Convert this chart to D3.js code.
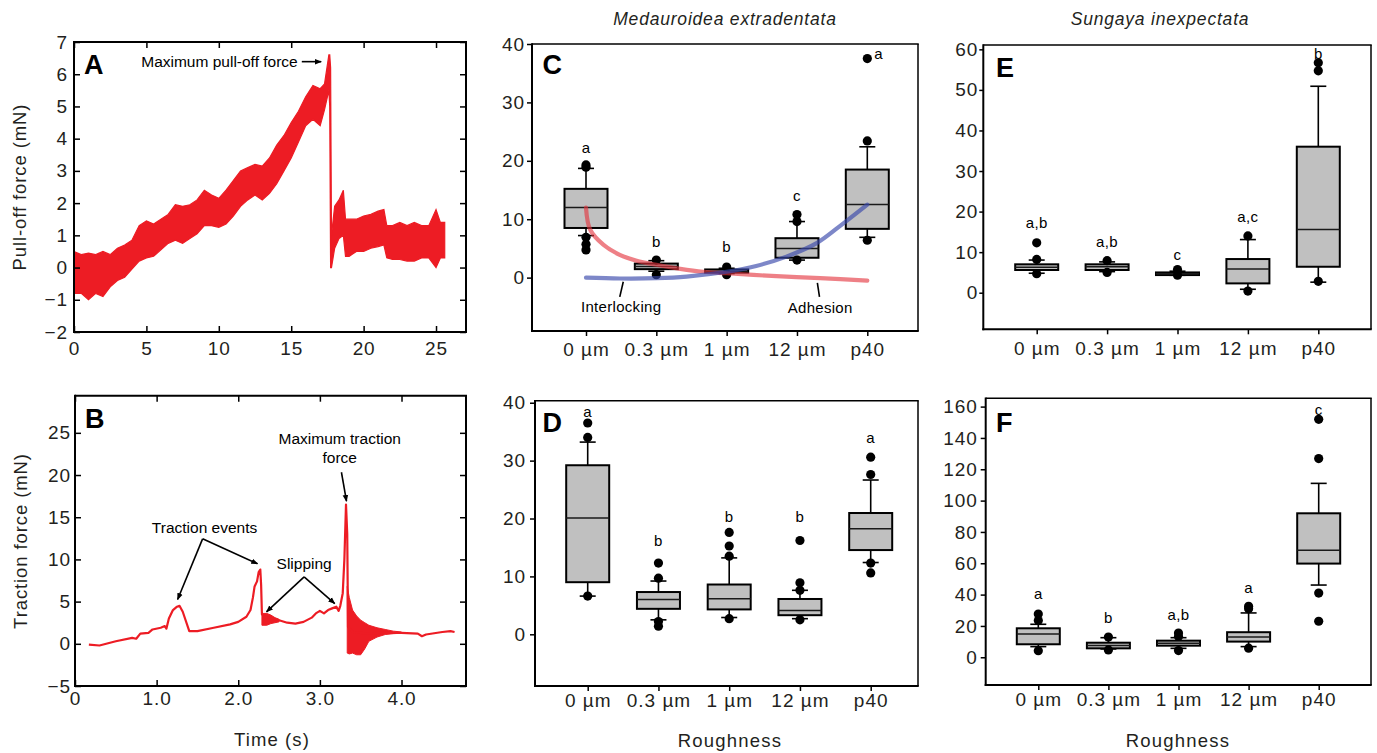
<!DOCTYPE html>
<html><head><meta charset="utf-8">
<script src="https://cdn.jsdelivr.net/npm/d3@7"></script>
<style>
body{margin:0;background:#fff;}
svg{display:block;font-family:"Liberation Sans",Arial,sans-serif;}
</style></head><body>
<svg id="chart" width="1377" height="753"></svg>
<script>
// ---------- Panel A : pull-off force trace (envelope of the noisy signal) ----------
const aTime = [0,0.5,1,1.5,2,2.5,3,3.5,4,4.5,5,5.5,6,6.5,7,7.5,8,8.5,9,9.5,10,10.5,11,11.5,12,12.5,13,13.5,14,14.5,15,15.5,16,16.5,17,17.3,17.6,17.66,17.72,17.78,18,18.3,18.6,18.75,19,19.5,20,20.5,21,21.4,21.6,22,22.5,23,23.5,24,24.5,25,25.3,25.6];
const aLow  = [-0.8,-0.8,-1.0,-0.8,-0.9,-0.6,-0.4,-0.3,-0.05,0.2,0.3,0.35,0.55,0.75,0.85,0.75,0.9,1.05,1.3,1.3,1.25,1.35,1.6,1.9,2.1,2.25,2.1,2.3,2.6,3.0,3.4,3.9,4.4,4.6,4.4,4.9,5.5,5.0,0.0,0.0,0.6,0.9,1.0,0.35,0.35,0.5,0.5,0.6,0.65,0.7,0.3,0.25,0.25,0.2,0.2,0.3,0.3,0.0,0.3,0.3];
const aHigh = [0.5,0.4,0.45,0.4,0.5,0.4,0.6,0.7,0.85,1.3,1.45,1.35,1.5,1.65,1.95,1.9,1.95,2.1,2.4,2.25,2.15,2.4,2.7,3.0,3.1,3.2,3.15,3.4,3.8,4.1,4.5,4.85,5.3,5.65,5.55,5.7,6.6,6.6,6.2,1.0,1.9,2.1,2.4,1.5,1.5,1.5,1.6,1.65,1.75,1.8,1.3,1.3,1.4,1.3,1.4,1.3,1.3,1.8,1.4,1.4];
const aXTicks = [0,5,10,15,20,25];
const aYTicks = [-2,-1,0,1,2,3,4,5,6,7];

// ---------- Panel B : traction force trace ----------
const bTime  = [0.17,0.3,0.5,0.7,0.75,0.8,0.9,0.95,1.05,1.1,1.12,1.15,1.2,1.25,1.28,1.32,1.4,1.5,1.7,1.9,2.0,2.1,2.15,2.18,2.2,2.23,2.25,2.27,2.28,2.29,2.32,2.4,2.5,2.6,2.7,2.8,2.9,2.95,3.0,3.05,3.1,3.15,3.2,3.23,3.25,3.28,3.3,3.32,3.335,3.345,3.4,3.5,3.6,3.7,3.8,3.9,4.0,4.2,4.25,4.3,4.5,4.6,4.65];
const bForce = [-0.1,-0.2,0.3,0.7,0.6,1.2,1.3,1.7,1.9,2.1,1.8,3.0,4.0,4.4,4.5,3.8,1.5,1.5,1.9,2.3,2.6,3.2,4.0,5.5,6.8,7.4,8.5,8.8,7.0,3.5,3.2,3.1,2.8,2.5,2.4,2.6,3.1,3.6,3.9,3.6,4.0,4.2,4.4,3.9,4.5,6.0,10.0,16.5,13.0,2.0,1.4,1.3,1.2,1.3,1.35,1.3,1.3,1.2,0.9,1.1,1.4,1.5,1.4];
const osc1Time = [2.29,2.35,2.4,2.45,2.5];
const osc1Lo   = [2.2,2.2,2.4,2.5,2.6];
const osc1Hi   = [3.6,3.6,3.4,3.1,2.9];
const osc2Time = [3.335,3.36,3.4,3.45,3.5,3.55,3.6,3.7,3.8,3.9,4.0];
const osc2Lo   = [-1.1,-1.2,-1.1,-1.3,-1.3,-0.6,0.3,0.8,1.1,1.2,1.25];
const osc2Hi   = [6.8,5.5,4.0,3.3,2.8,2.5,2.2,1.9,1.7,1.5,1.4];
const bXTicks = [0,1,2,3,4];
const bXTickLabels = ["0","1.0","2.0","3.0","4.0"];
const bYTicks = [-5,0,5,10,15,20,25];

// ---------- Box plots ----------
const cats = ["0 µm","0.3 µm","1 µm","12 µm","p40"];

// C: Medauroidea extradentata, pull-off
const cQ1  = [8.5,1.45,0.85,3.4,8.35];
const cMed = [12.0,1.9,1.1,5.0,12.5];
const cQ3  = [15.2,2.4,1.4,6.75,18.5];
const cLo  = [7.2,1.1,0.7,3.0,6.9];
const cHi  = [18.7,2.9,1.6,9.6,22.4];
const cOut = [[19.3,18.9,6.9,5.7,4.75],[3.0,0.5],[1.8,0.5],[10.8,9.6,3.0],[37.5,23.4,6.4]];
const cLetters = ["a","b","b","c","a"];
const cLetterY = [22.3,6.2,5.3,14.1,38.3];
const cYTicks = [0,10,20,30,40];
// C model curves (x in category index units)
const redCurveX  = [0,0.06,0.25,0.48,0.72,1.0,1.34,1.67,2.0,2.38,2.85,3.33,4.0];
const redCurveY  = [12.0,8.2,5.6,3.9,2.9,2.2,1.5,1.0,0.75,0.46,0.17,-0.1,-0.5];
const blueCurveX = [0,0.48,1.0,1.43,2.0,2.42,2.85,3.28,3.66,4.0];
const blueCurveY = [0.0,-0.15,-0.1,0.17,1.0,2.0,3.6,5.9,9.3,12.5];

// D: Medauroidea extradentata, traction
const dQ1  = [9.0,4.4,4.3,3.3,14.55];
const dMed = [20.1,6.0,6.15,4.1,18.25];
const dQ3  = [29.2,7.3,8.6,6.1,20.95];
const dLo  = [6.6,2.5,2.9,2.7,12.4];
const dHi  = [33.2,9.2,13.2,7.6,26.65];
const dOut = [[36.5,34.0,6.6],[12.3,9.7,2.2,1.4],[17.6,15.25,13.5,2.7],[16.2,8.9,7.6,2.5],[30.6,27.6,12.3,10.6]];
const dLetters = ["a","b","b","b","a"];
const dLetterY = [38.4,16.2,20.4,20.4,34.0];
const dYTicks = [0,10,20,30,40];

// E: Sungaya inexpectata, pull-off
const eQ1  = [5.6,5.6,4.35,2.3,6.4];
const eMed = [6.3,6.4,4.7,5.85,15.6];
const eQ3  = [7.0,7.0,5.0,8.3,36.0];
const eLo  = [4.8,5.2,4.3,0.85,2.6];
const eHi  = [8.05,7.6,5.3,13.1,50.9];
const eOut = [[12.3,8.2,4.7],[7.9,5.0],[5.7,4.3],[14.0,0.4],[56.7,54.7,2.8]];
const eLetters = ["a,b","a,b","c","a,c","b"];
const eLetterY = [17.2,12.6,9.3,18.7,59.0];
const eYTicks = [0,10,20,30,40,50,60];

// F: Sungaya inexpectata, traction
const fQ1  = [8.3,5.7,7.4,10.0,59.8];
const fMed = [14.9,7.5,9.0,13.0,68.3];
const fQ3  = [18.5,9.3,10.6,16.0,91.9];
const fLo  = [6.8,5.3,5.7,6.8,46.1];
const fHi  = [21.05,12.5,12.5,28.3,111];
const fOut = [[27.6,23.4,4.2],[12.9,4.7],[15.5,13.3,4.3],[32.5,31,5.8],[151.9,126.8,41,23]];
const fLetters = ["a","b","a,b","a","c"];
const fLetterY = [40.8,25.5,27.4,44.4,158.3];
const fYTicks = [0,20,40,60,80,100,120,140,160];

// ================= drawing =================
const TXT = "#231f20";
const RED = "#ed1c24";
const svg = d3.select("#chart");
svg.append("defs").append("marker")
  .attr("id","arr").attr("viewBox","0 0 10 10").attr("refX",9).attr("refY",5)
  .attr("markerWidth",7).attr("markerHeight",7).attr("orient","auto-start-reverse")
  .attr("markerUnits","userSpaceOnUse")
  .append("path").attr("d","M0,1 L10,5 L0,9 Z").attr("fill","#000");

function styleAxis(g, fs, ls){
  g.select(".domain").remove();
  g.selectAll(".tick line").attr("stroke","#000").attr("stroke-width",1.5);
  g.selectAll(".tick text").attr("fill",TXT).style("font-size",fs+"px")
    .style("letter-spacing",(ls||0)+"px");
}
function frame(x0,x1,y0,y1,wl,wo){
  const g = svg.append("g").attr("fill","none").attr("stroke","#000");
  g.append("line").attr("x1",x0).attr("x2",x0).attr("y1",y0-wo/2).attr("y2",y1+wl/2).attr("stroke-width",wl);
  g.append("line").attr("x1",x0-wl/2).attr("x2",x1+wo/2).attr("y1",y1).attr("y2",y1).attr("stroke-width",wl);
  g.append("line").attr("x1",x0).attr("x2",x1+wo/2).attr("y1",y0).attr("y2",y0).attr("stroke-width",wo);
  g.append("line").attr("x1",x1).attr("x2",x1).attr("y1",y0).attr("y2",y1).attr("stroke-width",wo);
}
function txt(x,y,s,o){
  o=o||{};
  const t = svg.append("text").attr("x",x).attr("y",y).text(s)
    .attr("fill",o.fill||TXT).attr("text-anchor",o.anchor||"middle")
    .style("font-size",(o.fs||18)+"px");
  if(o.ls) t.style("letter-spacing",o.ls+"px");
  if(o.weight) t.style("font-weight",o.weight);
  if(o.italic) t.style("font-style","italic");
  if(o.rotate) t.attr("transform",`rotate(-90,${x},${y})`);
  if(o.db) t.attr("dominant-baseline",o.db);
  return t;
}
function arrow(x1,y1,x2,y2,head){
  const l = svg.append("line").attr("x1",x1).attr("y1",y1).attr("x2",x2).attr("y2",y2)
    .attr("stroke","#000").attr("stroke-width",1.6);
  if(head!==false) l.attr("marker-end","url(#arr)");
}

// ---------- Panel A ----------
{
  const L=74,R=466,T=42,B=332;
  const x = d3.scaleLinear().domain([0,27.07]).range([L,R]);
  const y = d3.scaleLinear().domain([-2,7]).range([B,T]);
  const data = aTime.map((t,i)=>({t,lo:aLow[i],hi:aHigh[i]}));
  svg.append("path").datum(data)
    .attr("d",d3.area().x(d=>x(d.t)).y0(d=>y(d.lo)).y1(d=>y(d.hi)))
    .attr("fill",RED).attr("stroke",RED).attr("stroke-width",1.2).attr("stroke-linejoin","miter");
  styleAxis(svg.append("g").attr("transform",`translate(0,${B})`)
    .call(d3.axisBottom(x).tickValues(aXTicks).tickSize(-6).tickPadding(9.5)),19,0.9);
  styleAxis(svg.append("g").attr("transform",`translate(${L},0)`)
    .call(d3.axisLeft(y).tickValues(aYTicks).tickSize(-6).tickPadding(6)),19,0.9);
  styleAxis(svg.append("g").attr("transform",`translate(0,${T})`)
    .call(d3.axisTop(x).tickValues(aXTicks).tickSize(-6).tickFormat("")),19);
  styleAxis(svg.append("g").attr("transform",`translate(${R},0)`)
    .call(d3.axisRight(y).tickValues(aYTicks).tickSize(-6).tickFormat("")),19);
  frame(L,R,T,B,2,2);
  txt(84,73.5,"A",{anchor:"start",fs:27,weight:"bold",fill:"#000"});
  txt(x(15.45),y(6.39)+5.5,"Maximum pull-off force",{anchor:"end",fs:15.5,fill:"#000"});
  arrow(x(15.73),y(6.39),x(17.07),y(6.39));
  txt(21,187,"Pull-off force (mN)",{rotate:true,fs:18.5,ls:0.9,db:"middle"});
}

// ---------- Panel B ----------
{
  const L=75,R=466,T=395.7,B=686;
  const x = d3.scaleLinear().domain([0,4.79]).range([L,R]);
  const y = d3.scaleLinear().domain([-5,29.4]).range([B,T]);
  const area = d3.area().x(d=>x(d.t)).y0(d=>y(d.lo)).y1(d=>y(d.hi));
  [[osc1Time,osc1Lo,osc1Hi],[osc2Time,osc2Lo,osc2Hi]].forEach(([tt,lo,hi])=>{
    svg.append("path").datum(tt.map((t,i)=>({t,lo:lo[i],hi:hi[i]})))
      .attr("d",area).attr("fill",RED).attr("stroke",RED).attr("stroke-width",1);
  });
  svg.append("path").datum(bTime.map((t,i)=>({t,v:bForce[i]})))
    .attr("d",d3.line().x(d=>x(d.t)).y(d=>y(d.v)))
    .attr("fill","none").attr("stroke",RED).attr("stroke-width",2.2).attr("stroke-linejoin","round");
  styleAxis(svg.append("g").attr("transform",`translate(0,${B})`)
    .call(d3.axisBottom(x).tickValues(bXTicks).tickFormat((d,i)=>bXTickLabels[i]).tickSize(-6).tickPadding(6)),19,0.9);
  styleAxis(svg.append("g").attr("transform",`translate(${L},0)`)
    .call(d3.axisLeft(y).tickValues(bYTicks).tickSize(-6).tickPadding(4)),19,0.9);
  styleAxis(svg.append("g").attr("transform",`translate(0,${T})`)
    .call(d3.axisTop(x).tickValues(bXTicks).tickSize(-6).tickFormat("")),19);
  styleAxis(svg.append("g").attr("transform",`translate(${R},0)`)
    .call(d3.axisRight(y).tickValues(bYTicks).tickSize(-6).tickFormat("")),19);
  frame(L,R,T,B,2,2);
  txt(85,428,"B",{anchor:"start",fs:27,weight:"bold",fill:"#000"});
  // annotations
  txt(x(1.587),y(13.8)+5.5,"Traction events",{fs:15.5,fill:"#000"});
  arrow(x(1.563),y(12.44),x(1.257),y(5.25));
  arrow(x(1.563),y(12.44),x(2.236),y(9.48));
  txt(x(2.807),y(9.55)+5.5,"Slipping",{fs:15.5,fill:"#000"});
  arrow(x(2.807),y(7.94),x(2.346),y(3.79));
  arrow(x(2.807),y(7.94),x(3.182),y(4.77));
  txt(x(3.243),y(24.36)+5.5,"Maximum traction",{fs:15.5,fill:"#000"});
  txt(x(3.243),y(22.1)+5.5,"force",{fs:15.5,fill:"#000"});
  arrow(x(3.264),y(20.33),x(3.326),y(16.9));
  txt(22,541,"Traction force (mN)",{rotate:true,fs:18.5,ls:0.9,db:"middle"});
  txt(272,746,"Time (s)",{fs:18.5,ls:1.1});
}

// ---------- Box plot panels ----------
function boxPanel(cfg){
  const {L,R,T,B,yDom,xRange,q1,med,q3,lo,hi,outs,letters,letterY,yTicks,letterDx,
         letterAt,yPad,xPad,tick} = cfg;
  const x = d3.scalePoint().domain(cats).range(xRange);
  const y = d3.scaleLinear().domain(yDom).range([B,T]);
  const g = svg.append("g");
  const hw = 21.5, cw = 8;
  cats.forEach((c,i)=>{
    const cx = x(c);
    const gi = g.append("g");
    gi.append("line").attr("x1",cx).attr("x2",cx).attr("y1",y(q3[i])).attr("y2",y(hi[i])).attr("stroke","#000").attr("stroke-width",1.6);
    gi.append("line").attr("x1",cx).attr("x2",cx).attr("y1",y(q1[i])).attr("y2",y(lo[i])).attr("stroke","#000").attr("stroke-width",1.6);
    gi.append("line").attr("x1",cx-cw).attr("x2",cx+cw).attr("y1",y(hi[i])).attr("y2",y(hi[i])).attr("stroke","#000").attr("stroke-width",1.6);
    gi.append("line").attr("x1",cx-cw).attr("x2",cx+cw).attr("y1",y(lo[i])).attr("y2",y(lo[i])).attr("stroke","#000").attr("stroke-width",1.6);
    gi.append("rect").attr("x",cx-hw).attr("width",2*hw).attr("y",y(q3[i]))
      .attr("height",Math.max(0.5,y(q1[i])-y(q3[i]))).attr("fill","#c0c0c0").attr("stroke","#000").attr("stroke-width",2);
    gi.append("line").attr("x1",cx-hw).attr("x2",cx+hw).attr("y1",y(med[i])).attr("y2",y(med[i])).attr("stroke","#1a1a1a").attr("stroke-width",1.5);
    outs[i].forEach(v=>gi.append("circle").attr("cx",cx).attr("cy",y(v)).attr("r",4.6).attr("fill","#000"));
    txt(cx+(letterDx?letterDx[i]:0),y(letterY[i]),letters[i],{fs:15,ls:0.4,db:"central",anchor:(letterDx&&letterDx[i])?"start":"middle",fill:"#000"});
  });
  const ax = svg.append("g").attr("transform",`translate(${L},0)`)
    .call(d3.axisLeft(y).tickValues(yTicks).tickSize(tick).tickPadding(yPad));
  styleAxis(ax,19,0.9);
  const bx = svg.append("g").attr("transform",`translate(0,${B})`)
    .call(d3.axisBottom(x).tickSize(5).tickPadding(xPad));
  styleAxis(bx,19,1.0);
  frame(L,R,T,B,2,1.5);
  return {x,y};
}

// C
{
  const r = boxPanel({L:532,R:918,T:44,B:331,yDom:[-9.14,40],xRange:[586,867.3],
    q1:cQ1,med:cMed,q3:cQ3,lo:cLo,hi:cHi,outs:cOut,letters:cLetters,letterY:cLetterY,
    yTicks:cYTicks,letterDx:[0,0,0,0,7],yPad:2,xPad:7,tick:5});
  const {x,y} = r;
  const cx0 = x(cats[0]), st = x.step();
  const line = d3.line().curve(d3.curveCatmullRom).x(d=>cx0+d[0]*st).y(d=>y(d[1]));
  svg.append("path").datum(redCurveX.map((v,i)=>[v,redCurveY[i]])).attr("d",line)
    .attr("fill","none").attr("stroke","rgba(228,50,60,0.62)").attr("stroke-width",4.2).attr("stroke-linecap","round");
  svg.append("path").datum(blueCurveX.map((v,i)=>[v,blueCurveY[i]])).attr("d",line)
    .attr("fill","none").attr("stroke","rgba(55,70,170,0.65)").attr("stroke-width",4.2).attr("stroke-linecap","round");
  arrow(cx0+0.53*st,y(-0.7),cx0+0.48*st,y(-3.3),false);
  arrow(cx0+3.29*st,y(-0.9),cx0+3.32*st,y(-3.3),false);
  txt(cx0+0.5*st,y(-5.0),"Interlocking",{fs:15,ls:0.3,db:"central",fill:"#000"});
  txt(cx0+3.33*st,y(-5.2),"Adhesion",{fs:15,ls:0.3,db:"central",fill:"#000"});
  txt(542.5,74,"C",{anchor:"start",fs:27,weight:"bold",fill:"#000"});
  txt(725,25,"Medauroidea extradentata",{fs:17.5,italic:true,ls:0.8});
}
// D
{
  boxPanel({L:535,R:918,T:400.7,B:686,yDom:[-8.93,40.35],xRange:[587.7,870.7],
    q1:dQ1,med:dMed,q3:dQ3,lo:dLo,hi:dHi,outs:dOut,letters:dLetters,letterY:dLetterY,
    yTicks:dYTicks,yPad:4,xPad:3,tick:5});
  txt(542.5,431.5,"D",{anchor:"start",fs:27,weight:"bold",fill:"#000"});
  txt(730,746.5,"Roughness",{fs:18.5,ls:1.2});
}
// E
{
  boxPanel({L:983.3,R:1371,T:45,B:329.3,yDom:[-9.02,61.07],xRange:[1036.7,1318.3],
    q1:eQ1,med:eMed,q3:eQ3,lo:eLo,hi:eHi,outs:eOut,letters:eLetters,letterY:eLetterY,
    yTicks:eYTicks,yPad:1,xPad:7,tick:4});
  txt(996,77,"E",{anchor:"start",fs:27,weight:"bold",fill:"#000"});
  txt(1160,25,"Sungaya inexpectata",{fs:17.5,italic:true,ls:0.8});
}
// F
{
  boxPanel({L:985.7,R:1371,T:398.3,B:685,yDom:[-17.7,165.3],xRange:[1038.3,1318.7],
    q1:fQ1,med:fMed,q3:fQ3,lo:fLo,hi:fHi,outs:fOut,letters:fLetters,letterY:fLetterY,
    yTicks:fYTicks,yPad:3,xPad:3,tick:5});
  txt(996,431.5,"F",{anchor:"start",fs:27,weight:"bold",fill:"#000"});
  txt(1178,746.5,"Roughness",{fs:18.5,ls:1.2});
}
</script>
</body></html>
